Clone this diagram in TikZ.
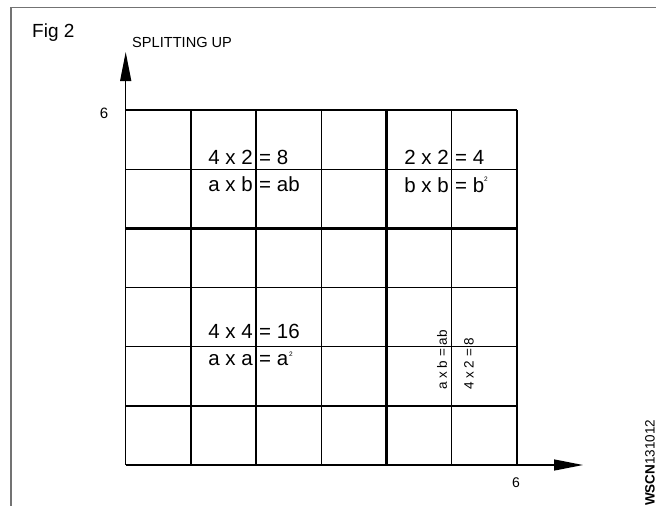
\documentclass[tikz,border=0pt]{standalone}
\usepackage{fontspec}
\setmainfont{Liberation Sans}
\usetikzlibrary{arrows.meta}
\begin{document}
\begin{tikzpicture}[x=1pt,y=-1pt,
  gridline/.style={line width=1.3pt,black},
  thickline/.style={line width=3pt,black},
  framel/.style={line width=1.6pt,black!55},
  axisarrow/.style={line width=1.3pt,-{Triangle[length=29pt,width=11pt]}},
  eqtext/.style={inner sep=0pt,font=\fontsize{20.5}{24}\selectfont},
  suptext/.style={inner sep=0pt,font=\fontsize{6.5}{8}\selectfont},
  rottext/.style={inner sep=0pt,rotate=90,anchor=west,font=\fontsize{13.5}{16}\selectfont},
  labeltext/.style={inner sep=0pt,font=\fontsize{15}{18}\selectfont}]
\useasboundingbox (0,0) rectangle (656,506);
% frame
\draw[framel] (11,506) -- (11,7.5) -- (656,7.5);
% grid
\def\gx{125.7}\def\gy{110}\def\cw{65.22}\def\rh{59.17}
\foreach \k in {1,...,6} \draw[gridline] ({\gx+\k*\cw},\gy) -- ({\gx+\k*\cw},465);
\foreach \j in {0,...,5} \draw[gridline] (\gx,{\gy+\j*\rh}) -- (517,{\gy+\j*\rh});
\draw[thickline] ({\gx+4*\cw},\gy) -- ({\gx+4*\cw},465);
\draw[thickline] (\gx,{\gy+2*\rh}) -- (517,{\gy+2*\rh});
% axes
\coordinate (O) at (\gx,465);
\coordinate (ytip) at (\gx,52);
\coordinate (xtip) at (583,465);
\draw[axisarrow] (O) -- (ytip);
\draw[axisarrow] (O) -- (xtip);
% labels
\node[inner sep=0pt,anchor=base west,font=\fontsize{19}{22}\selectfont] (fig) at (32,37) {Fig 2};
\node[inner sep=0pt,anchor=base west,font=\fontsize{14.6}{17}\selectfont] (title) at (132,47) {SPLITTING UP};
\node[labeltext] (ysix) at (104,113) {6};
\node[labeltext,font=\fontsize{14}{17}\selectfont] (xsix) at (516,483) {6};
\node[inner sep=0pt,rotate=90,anchor=west,font=\fontsize{13.5}{16}\selectfont] (code) at (650,506) {\textbf{WSCN}131012};
% equations upper left
\node[eqtext,anchor=base east] (ul1l) at (253,164) {4 x 2};
\node[eqtext,anchor=base west] (ul1r) at (259,164) {= 8};
\node[eqtext,anchor=base east] (ul2l) at (253,191) {a x b};
\node[eqtext,anchor=base west] (ul2r) at (259,191) {= ab};
% upper right
\node[eqtext,anchor=base east] (ur1l) at (449,164) {2 x 2};
\node[eqtext,anchor=base west] (ur1r) at (455,164) {= 4};
\node[eqtext,anchor=base east] (ur2l) at (449,192) {b x b};
\node[eqtext,anchor=base west] (ur2r) at (455,192) {= b};
\node[suptext] (ursup) at (486,179) {2};
% lower left
\node[eqtext,anchor=base east] (ll1l) at (253,338) {4 x 4};
\node[eqtext,anchor=base west] (ll1r) at (259,338) {= 16};
\node[eqtext,anchor=base east] (ll2l) at (253,365) {a x a};
\node[eqtext,anchor=base west] (ll2r) at (259,365) {= a};
\node[suptext] (llsup) at (291,354) {2};
% rotated
\node[rottext] (rot1) at (442,390) {a x b = ab};
\node[rottext] (rot2) at (469,390) {4 x 2 = 8};
\end{tikzpicture}
\end{document}
